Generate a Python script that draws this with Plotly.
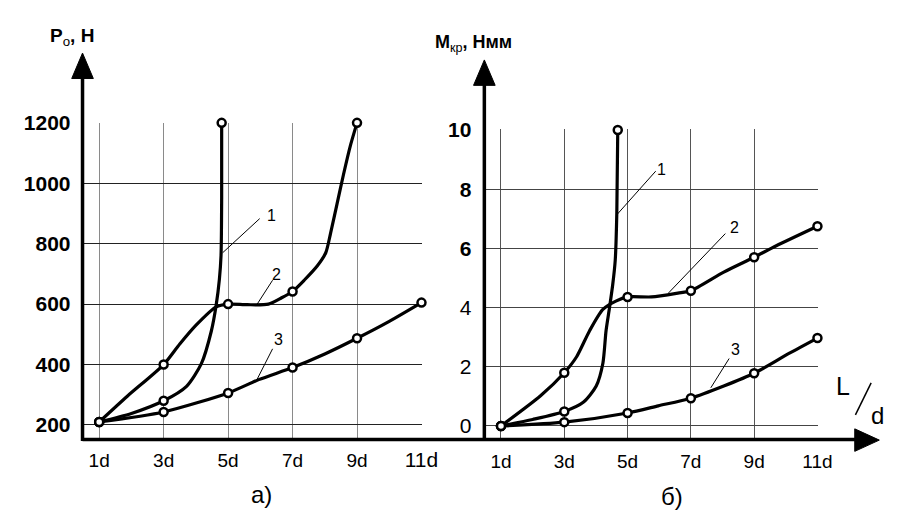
import plotly.graph_objects as go

W, H = 912, 513
FONT = "Liberation Sans"

# ---------------- data ----------------
x_ticks = [1, 3, 5, 7, 9, 11]
x_ticklabels = ["1d", "3d", "5d", "7d", "9d", "11d"]

# (a) axial force Po, N
a_y_ticks = [200, 400, 600, 800, 1000, 1200]
# measured points (markers)
a1_mx = [1, 3, 4.8]
a1_my = [210, 280, 1200]
a2_mx = [1, 3, 5, 7, 9]
a2_my = [210, 400, 600, 642, 1200]
a3_mx = [1, 3, 5, 7, 9, 11]
a3_my = [210, 243, 306, 390, 487, 605]
# curve traces
a1_cx = [1, 2, 3, 3.71, 4.17, 4.48, 4.63, 4.73, 4.78, 4.80, 4.80]
a1_cy = [210, 238, 280, 328, 403, 511, 597, 683, 760, 950, 1200]
a2_cx = [1, 1.88, 3, 3.5, 4.02, 4.63, 5, 5.6, 6.25, 6.66, 7, 7.36, 7.77, 8.03, 8.18, 8.38, 8.58, 8.8, 9]
a2_cy = [210, 296, 400, 468, 532, 591, 600, 598, 600, 621, 642, 679, 727, 770, 835, 932, 1029, 1127, 1200]
a3_cx = [1, 3, 5, 5.95, 7, 8, 9, 10, 11]
a3_cy = [210, 243, 306, 350, 390, 435, 487, 543, 605]

# (b) torque Mkr, N*mm
b_y_ticks = [0, 2, 4, 6, 8, 10]
b1_mx = [1, 3, 4.69]
b1_my = [0, 0.49, 10]
b2_mx = [1, 3, 5, 7, 9, 11]
b2_my = [0, 1.8, 4.36, 4.57, 5.7, 6.75]
b3_mx = [1, 3, 5, 7, 9, 11]
b3_my = [0, 0.13, 0.44, 0.94, 1.78, 2.97]
b1_cx = [1, 2, 3, 3.6, 4.01, 4.22, 4.32, 4.43, 4.53, 4.61, 4.66, 4.69]
b1_cy = [0, 0.22, 0.49, 0.8, 1.35, 2.12, 3.22, 4.0, 4.77, 5.6, 7.2, 10]
b2_cx = [1, 2.25, 3, 3.39, 3.8, 4.22, 4.63, 5, 5.76, 6.59, 7, 8.04, 9, 9.7, 11]
b2_cy = [0, 1.02, 1.8, 2.34, 3.22, 3.94, 4.22, 4.36, 4.36, 4.49, 4.57, 5.2, 5.7, 6.09, 6.75]
b3_cx = [1, 3, 5, 5.97, 7, 8.04, 9, 10.1, 11]
b3_cy = [0, 0.13, 0.44, 0.68, 0.94, 1.35, 1.78, 2.45, 2.97]


def px(x):
    return x / W


def py(y):
    return 1 - y / H


fig = go.Figure()


def add_curve(cx, cy, mx, my, xa, ya):
    fig.add_trace(go.Scatter(x=cx, y=cy, mode="lines", xaxis=xa, yaxis=ya,
                             line=dict(color="black", width=3.2, shape="spline", smoothing=0.7),
                             cliponaxis=False, showlegend=False, hoverinfo="skip"))
    fig.add_trace(go.Scatter(x=mx, y=my, mode="markers", xaxis=xa, yaxis=ya,
                             marker=dict(symbol="circle", size=8, color="white",
                                         line=dict(color="black", width=2.5)),
                             cliponaxis=False, showlegend=False))


add_curve(a1_cx, a1_cy, a1_mx, a1_my, "x", "y")
add_curve(a2_cx, a2_cy, a2_mx, a2_my, "x", "y")
add_curve(a3_cx, a3_cy, a3_mx, a3_my, "x", "y")
add_curve(b1_cx, b1_cy, b1_mx, b1_my, "x2", "y2")
add_curve(b2_cx, b2_cy, b2_mx, b2_my, "x2", "y2")
add_curve(b3_cx, b3_cy, b3_mx, b3_my, "x2", "y2")

xa_ticktext = [f"<span style='font-size:21px'>{t}</span>" if t == "11d" else t for t in x_ticklabels]
a_ticktext = [f"<b>{v}</b>" for v in a_y_ticks]
b_ticktext = [f"<b>{v}</b>" if v >= 6 else str(v) for v in b_y_ticks]

common_x = dict(tickmode="array", tickvals=x_ticks, showline=False, zeroline=False,
                showgrid=True, ticks="", ticklabelstandoff=8,
                tickfont=dict(family=FONT, size=19, color="black"))
common_y = dict(tickmode="array", showline=False, zeroline=False, showgrid=True,
                ticks="")

fig.update_layout(
    width=W, height=H, autosize=False,
    margin=dict(l=0, r=0, t=0, b=0),
    paper_bgcolor="white", plot_bgcolor="white",
    xaxis=dict(domain=[84 / W, 430 / W], range=[0.483, 11.03], ticktext=xa_ticktext,
               gridcolor="#8a8a8a", gridwidth=1, anchor="y", **common_x),
    yaxis=dict(domain=[py(437), py(114)], range=[154.7, 1201], tickvals=a_y_ticks,
               ticktext=a_ticktext, gridcolor="#222", gridwidth=1, anchor="x",
               ticklabelstandoff=11,
               tickfont=dict(family=FONT, size=21, color="black"), **common_y),
    xaxis2=dict(domain=[493 / W, 833 / W], range=[0.474, 11.03], ticktext=x_ticklabels,
                gridcolor="#555", gridwidth=1, anchor="y2", **common_x),
    yaxis2=dict(domain=[py(438), py(121)], range=[-0.46, 10.02], tickvals=b_y_ticks,
                ticktext=b_ticktext, gridcolor="#444", gridwidth=1, anchor="x2",
                ticklabelstandoff=12,
                tickfont=dict(family=FONT, size=21, color="black"), **common_y),
)

shapes = []
# axis lines
shapes.append(dict(type="line", xref="paper", yref="paper", x0=px(84), x1=px(878),
                   y0=py(438), y1=py(438), line=dict(color="black", width=3.5)))
shapes.append(dict(type="line", xref="paper", yref="paper", x0=px(84), x1=px(84),
                   y0=py(439.5), y1=py(62), line=dict(color="black", width=3.5)))
shapes.append(dict(type="line", xref="paper", yref="paper", x0=px(493), x1=px(493),
                   y0=py(439.5), y1=py(70), line=dict(color="black", width=3.5)))


def tri(p1, p2, p3):
    return dict(type="path", xref="paper", yref="paper",
                path=f"M {px(p1[0])},{py(p1[1])} L {px(p2[0])},{py(p2[1])} L {px(p3[0])},{py(p3[1])} Z",
                fillcolor="black", line=dict(color="black", width=1))


shapes.append(tri((84, 43), (73, 69), (95, 69)))
shapes.append(tri((493, 50), (482, 76), (504, 76)))
shapes.append(tri((895, 438.5), (870, 427), (870, 450)))

# "/" in L/d
shapes.append(dict(type="line", xref="paper", yref="paper", x0=px(886.7), x1=px(870.7),
                   y0=py(380), y1=py(412.7), line=dict(color="black", width=1.5)))

# leader lines for curve numbers (data coordinates)
leaders = [
    ("x", "y", 5.98, 883, 4.83, 770),
    ("x", "y", 6.38, 679, 5.89, 598),
    ("x", "y", 6.38, 452, 5.89, 349),
    ("x2", "y2", 5.89, 8.61, 4.68, 7.16),
    ("x2", "y2", 8.09, 6.50, 6.29, 4.49),
    ("x2", "y2", 8.21, 2.28, 7.63, 1.29),
]
for xr, yr, x0, y0, x1, y1 in leaders:
    shapes.append(dict(type="line", xref=xr, yref=yr, x0=x0, y0=y0, x1=x1, y1=y1,
                       line=dict(color="black", width=1)))
fig.update_layout(shapes=shapes)

ann = []
labels = [
    ("x", "y", 6.34, 892, "1"),
    ("x", "y", 6.50, 698, "2"),
    ("x", "y", 6.56, 482, "3"),
    ("x2", "y2", 6.08, 8.65, "1"),
    ("x2", "y2", 8.37, 6.70, "2"),
    ("x2", "y2", 8.40, 2.57, "3"),
]
for xr, yr, x, y, t in labels:
    ann.append(dict(xref=xr, yref=yr, x=x, y=y, text=t, showarrow=False,
                    font=dict(family=FONT, size=16, color="black")))

ann += [
    dict(xref="paper", yref="paper", x=px(49), y=py(27), xanchor="left", yanchor="middle",
         text="<b>P</b><sub>o</sub><b>, Н</b>", showarrow=False,
         font=dict(family=FONT, size=19, color="black")),
    dict(xref="paper", yref="paper", x=px(441), y=py(33), xanchor="left", yanchor="middle",
         text="<b>M</b><sub>кр</sub><b>, Нмм</b>", showarrow=False,
         font=dict(family=FONT, size=18, color="black")),
    dict(xref="paper", yref="paper", x=px(858), y=py(383), xanchor="center", yanchor="middle",
         text="L", showarrow=False, font=dict(family=FONT, size=25, color="black")),
    dict(xref="paper", yref="paper", x=px(893), y=py(413), xanchor="center", yanchor="middle",
         text="d", showarrow=False, font=dict(family=FONT, size=24, color="black")),
    dict(xref="paper", yref="paper", x=px(266), y=py(494), xanchor="center", yanchor="middle",
         text="а)", showarrow=False, font=dict(family=FONT, size=24, color="black")),
    dict(xref="paper", yref="paper", x=px(684), y=py(496), xanchor="center", yanchor="middle",
         text="б)", showarrow=False, font=dict(family=FONT, size=24, color="black")),
]
fig.update_layout(annotations=ann)

fig.write_html("out.html", config={"displayModeBar": False},
               post_script="document.body.style.margin='0';document.body.style.overflow='hidden';")
